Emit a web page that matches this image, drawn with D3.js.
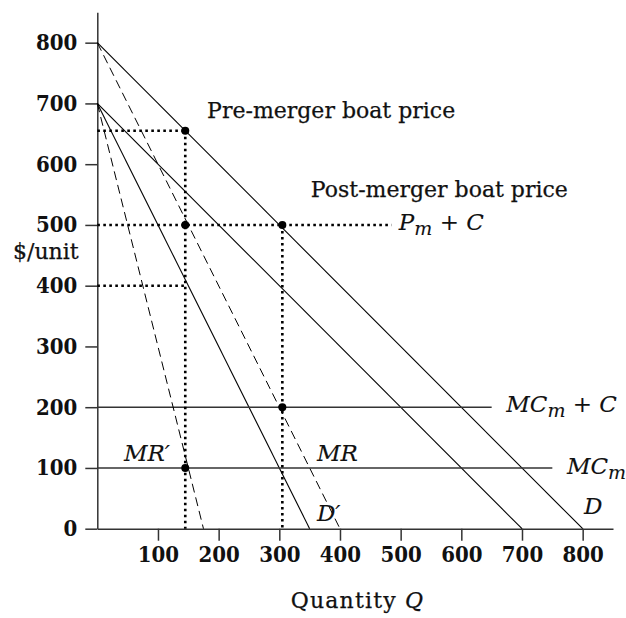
<!DOCTYPE html>
<html>
<head>
<meta charset="utf-8">
<script src="https://cdn.jsdelivr.net/npm/d3@7"></script>
<style>
  html, body { margin: 0; padding: 0; background: #fff; }
  svg { display: block; }
  .tick text { font-family: "DejaVu Serif Condensed", "DejaVu Serif", serif; font-stretch: condensed; font-weight: bold; font-size: 22px; fill: #111; }
  .lbl { font-family: "DejaVu Serif", serif; fill: #111; stroke: #111; stroke-width: 0.25px; }
</style>
</head>
<body>
<svg id="chart" width="626" height="618"></svg>
<script>
// ---- data (in chart units: Q on x, $/unit on y) ----
const xTicks = [100, 200, 300, 400, 500, 600, 700, 800];
const yTicks = [0, 100, 200, 300, 400, 500, 600, 700, 800];
const axisMax = [850, 850];

const demandD = [[0, 800], [800, 0]];
const demandMerged = [[0, 700], [700, 0]];
const mrLine = [[0, 700], [350, 0]];
const demandDPrime = [[0, 800], [400, 0]];
const mrPrime = [[0, 700], [175, 0]];
const mcPlusC = [[0, 200], [650, 200]];
const mcLine = [[0, 100], [750, 100]];

const guidePreH = [[0, 655], [145, 655]];
const guidePreV = [[145, 655], [145, 0]];
const guidePostH = [[0, 500], [485, 500]];
const guidePostV = [[305, 500], [305, 0]];
const guide400 = [[0, 400], [145, 400]];

const pointsQ = [145, 145, 305, 305, 145];
const pointsP = [655, 500, 500, 200, 100];

const labelTexts = ["Pre-merger boat price", "Post-merger boat price"];
const labelQ = [181, 352];
const labelP = [676, 546];

// ---- drawing ----
const svg = d3.select("#chart");
const x = d3.scaleLinear().domain([0, axisMax[0]]).range([97.3, 613]);
const y = d3.scaleLinear().domain([0, axisMax[1]]).range([528.7, 12.3]);

const line = d3.line().x(d => x(d[0])).y(d => y(d[1]));

// axes
const yAxis = svg.append("g").attr("transform", `translate(${x(0)},0)`)
  .call(d3.axisLeft(y).tickValues(yTicks).tickSize(12).tickSizeOuter(0).tickPadding(8));
const xAxis = svg.append("g").attr("transform", `translate(0,${y(0)})`)
  .call(d3.axisBottom(x).tickValues(xTicks).tickSize(12).tickSizeOuter(0).tickPadding(6));
[xAxis, yAxis].forEach(a => {
  a.select(".domain").attr("stroke", "#333").attr("stroke-width", 1.5);
  a.selectAll(".tick line").attr("stroke", "#333").attr("stroke-width", 1.5);
});

// solid lines
[demandD, demandMerged, mrLine].forEach(l => {
  svg.append("path").attr("d", line(l)).attr("fill", "none").attr("stroke", "#000").attr("stroke-width", 1.1);
});
[mcPlusC, mcLine].forEach(l => {
  svg.append("path").attr("d", line(l)).attr("fill", "none").attr("stroke", "#333").attr("stroke-width", 1.4);
});
// dashed lines
[demandDPrime, mrPrime].forEach(l => {
  svg.append("path").attr("d", line(l)).attr("fill", "none").attr("stroke", "#000").attr("stroke-width", 1)
    .attr("stroke-dasharray", "9,5");
});
// dotted guides
[guidePreH, guidePreV, guidePostH, guidePostV, guide400].forEach(l => {
  svg.append("path").attr("d", line(l)).attr("fill", "none").attr("stroke", "#000").attr("stroke-width", 2.6)
    .attr("stroke-dasharray", "2.6,3.4");
});

// points
svg.selectAll("circle.pt").data(pointsQ.map((q, i) => [q, pointsP[i]])).enter()
  .append("circle").attr("class", "pt")
  .attr("cx", d => x(d[0])).attr("cy", d => y(d[1])).attr("r", 4).attr("fill", "#000");

// plain labels
labelTexts.forEach((t, i) => {
  svg.append("text").attr("class", "lbl").attr("x", x(labelQ[i])).attr("y", y(labelP[i]))
    .attr("font-size", 22).text(t);
});

// italic math labels
function mathLabel(q, p, parts) {
  const t = svg.append("text").attr("class", "lbl").attr("x", x(q)).attr("y", y(p))
    .attr("font-size", 23).attr("font-style", "italic").style("stroke-width", "0.1px");
  parts.forEach(pt => {
    const s = t.append("tspan").text(pt.t);
    if (pt.sub) s.attr("font-size", 19).attr("dy", 5);
    if (pt.up) s.attr("dy", -5);
    if (pt.roman) s.attr("font-style", "normal");
  });
}
mathLabel(497, 492, [{t: "P"}, {t: "m", sub: true}, {t: " + ", up: true, roman: true}, {t: "C"}]);
mathLabel(674, 192, [{t: "MC"}, {t: "m", sub: true}, {t: " + ", up: true, roman: true}, {t: "C"}]);
mathLabel(774, 90, [{t: "MC"}, {t: "m", sub: true}]);
mathLabel(362, 111, [{t: "MR"}]);
mathLabel(44, 111, [{t: "MR\u2032"}]);
mathLabel(362, 13, [{t: "D\u2032"}]);
mathLabel(802, 24, [{t: "D"}]);

// axis titles
svg.append("text").attr("class", "lbl").attr("x", 13).attr("y", 259).attr("font-size", 22).text("$/unit");
const qt = svg.append("text").attr("class", "lbl").attr("x", 357.5).attr("y", 608)
  .attr("text-anchor", "middle").attr("font-size", 22).attr("letter-spacing", 1.2);
qt.append("tspan").text("Quantity ");
qt.append("tspan").attr("font-style", "italic").text("Q");
</script>
</body>
</html>
